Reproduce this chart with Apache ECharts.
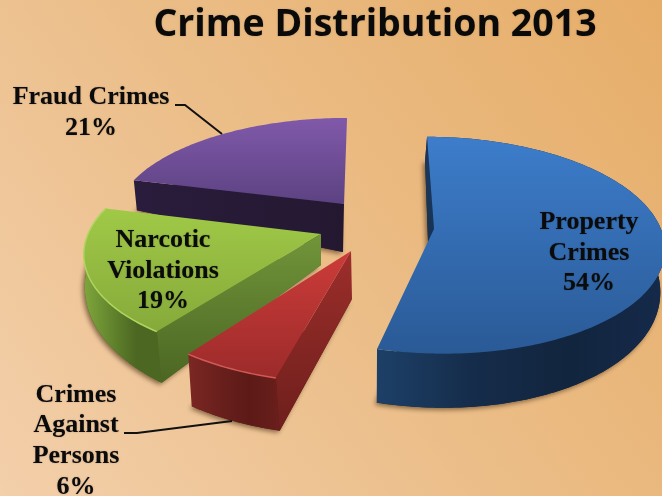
<!DOCTYPE html>
<html><head><meta charset="utf-8">
<style>html,body{margin:0;padding:0;background:#eab980}#c{width:662px;height:496px}</style>
<script src="https://cdn.jsdelivr.net/npm/echarts@6/dist/echarts.min.js"></script>
</head><body><div id="c"></div>
<script>
var titleText = 'Crime Distribution 2013';
var categories = ['Property\nCrimes', 'Crimes\nAgainst\nPersons', 'Narcotic\nViolations', 'Fraud Crimes'];
var values = [54, 6, 19, 21];

// Layout of the exploded perspective pie, one entry per slice (pixels), no data here.
var k = 0.15;
var slices = [
  {ax:434,ay:229,rx:227,ry:106,sk:-8,d0:39,dk:15,dmin:20,sx:[-5,-1,4],z:20,lx:589,ly:253,
   top:['#3d7dcb','#2a5a96'],side:['#1d4068','#152c4a','#12253e','#15294a'],face:['#1b3a60','#16304f'],faceDir:[0,1],rim:null},
  {ax:351,ay:251,rx:235,ry:112,sk:6,d0:48,dk:5,dmin:20,sx:[1,-3,0],z:40,lx:76,ly:441,
   top:['#cc3c3a','#9c2b2a'],side:['#7c2723','#6a201d','#5c1a17','#6a1f1c'],face:['#9c2e2b','#6e1f1c'],faceDir:[0,1],rim:'#d05a55'},
  {ax:321,ay:234,rx:233,ry:106,sk:9,d0:31,dk:25,dmin:20,sx:[0,-6,0],z:30,lx:163,ly:271,
   top:['#a0c947','#86aa3a'],side:['#7fa63c','#64872e','#4c6722','#4c6722'],face:['#71953a','#4b6623'],faceDir:[0,1],rim:'#b0d560'},
  {ax:344,ay:204,rx:226,ry:99,sk:3.5,d0:48,dk:72,dmin:30,sx:[-1,23,-28],z:10,lx:91,ly:113,
   top:['#8059aa','#5c4282'],side:null,face:['#2a1c3c','#241831'],faceDir:[1,0],rim:null}
];
var leaders = [null, [[124,433],[137,433],[232,421]], null, [[175,105],[185,105],[222,134]]];

function grad(x2,y2,cols){
  return new echarts.graphic.LinearGradient(0,0,x2,y2,cols.map(function(c,i){
    return {offset:cols.length>1?i/(cols.length-1):0,color:c};}));
}
var total = values.reduce(function(a,b){return a+b;},0);

function renderItem(params, api){
  var i = params.dataIndex, s = slices[i];
  var before = 0; for (var n=0;n<i;n++) before += values[n];
  var t0 = before/total*Math.PI*2, t1 = (before+values[i])/total*Math.PI*2;
  function topPt(t,r){
    var u=r*Math.sin(t), v=r*Math.cos(t), w=1/(1+k*v);
    return [s.ax+(s.rx*u+s.sk*v)*w, s.ay-s.ry*v*w];
  }
  function lowPt(t,r){
    var p=topPt(t,r), v=r*Math.cos(t), d=Math.max(s.d0-s.dk*v,s.dmin);
    return [p[0]+s.sx[0]+s.sx[1]*v+s.sx[2]*v*v, p[1]+d];
  }
  var arcT=[],arcL=[],N=Math.ceil((t1-t0)/(Math.PI/180));
  for (var j=0;j<=N;j++){var t=t0+(t1-t0)*j/N;arcT.push(topPt(t,1));arcL.push(lowPt(t,1));}
  var apexT=topPt(0,0), apexL=lowPt(0,0);
  var z=s.z, kids=[];
  kids.push({type:'polygon',z2:z,shape:{points:[apexL].concat(arcL)},
    style:{fill:s.side?s.side[2]:s.face[0],shadowBlur:5,shadowColor:'rgba(60,35,10,0.6)',shadowOffsetX:-2,shadowOffsetY:2}});
  kids.push({type:'polygon',z2:z+1,shape:{points:[apexT,arcT[0],arcL[0],apexL]},
    style:{fill:grad(s.faceDir[0],s.faceDir[1],s.face)}});
  if (s.side) kids.push({type:'polygon',z2:z+2,shape:{points:arcT.concat(arcL.slice().reverse())},
    style:{fill:grad(1,0,s.side)}});
  kids.push({type:'polygon',z2:z+3,shape:{points:[apexT].concat(arcT)},
    style:{fill:grad(0,1,s.top)}});
  if (s.rim) kids.push({type:'polyline',z2:z+4,shape:{points:arcT},
    style:{fill:null,stroke:s.rim,lineWidth:1.5}});
  var pct=api.value(1);
  kids.push({type:'text',z2:100,x:s.lx,y:s.ly,style:{
    text:categories[i]+'\n'+pct+'%',align:'center',verticalAlign:'middle',
    font:'bold 26px "Liberation Serif"',lineHeight:30.7,fill:'#0b0b0b',
    textShadowColor:'rgba(0,0,0,0.3)',textShadowBlur:1.5}});
  if (leaders[i]) kids.push({type:'polyline',z2:100,shape:{points:leaders[i]},
    style:{fill:null,stroke:'#111',lineWidth:2}});
  return {type:'group',children:kids};
}

var chart = echarts.init(document.getElementById('c'), null, {renderer:'canvas'});
chart.setOption({
  animation:false,
  backgroundColor:new echarts.graphic.LinearGradient(0,1,1,0,[
    {offset:0,color:'#f3cfaa'},{offset:0.5,color:'#ebbd87'},{offset:1,color:'#e6ad68'}]),
  title:{text:titleText,left:370,top:1,textAlign:'center',
    textStyle:{fontFamily:'"Open Sans"',fontWeight:'bold',fontSize:37.5,color:'#0a0a0a',
      textShadowColor:'rgba(0,0,0,0.2)',textShadowBlur:2}},
  xAxis:{show:false},yAxis:{show:false},
  series:[{type:'custom',coordinateSystem:'none',renderItem:renderItem,clip:false,
    data:categories.map(function(c,i){return [i,values[i]];})}]
});
</script></body></html>
